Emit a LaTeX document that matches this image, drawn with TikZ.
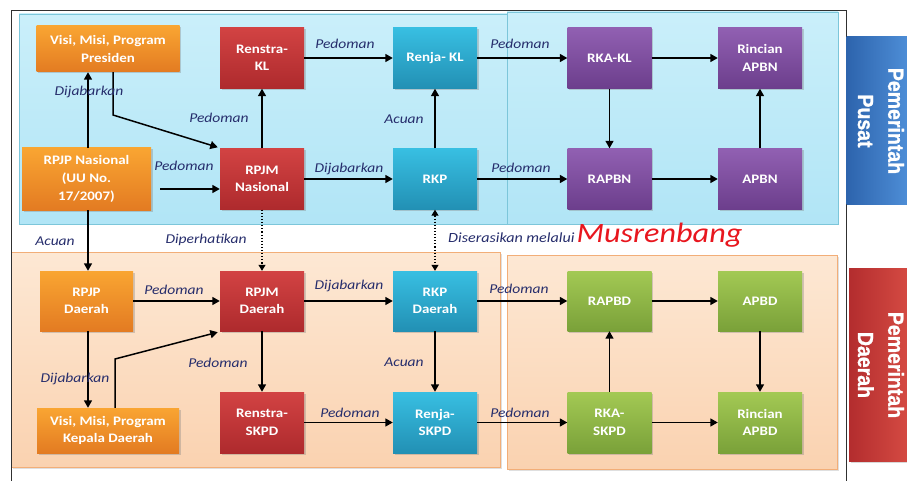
\documentclass[tikz,border=0pt]{standalone}
\usepackage{fontspec}
\usepackage{graphicx}
\setmainfont[FakeStretch=1.15]{Carlito}
\newfontfamily\tabfont[FakeBold=1.2]{Liberation Sans Bold}
\usetikzlibrary{arrows.meta,shadows}
\definecolor{orTop}{HTML}{F9A532}
\definecolor{orBot}{HTML}{E37B22}
\definecolor{rdTop}{HTML}{D24343}
\definecolor{rdBot}{HTML}{AE2A2D}
\definecolor{tlTop}{HTML}{38BFE2}
\definecolor{tlBot}{HTML}{2290B4}
\definecolor{puTop}{HTML}{9160B2}
\definecolor{puBot}{HTML}{6C3E8C}
\definecolor{grTop}{HTML}{A3C954}
\definecolor{grBot}{HTML}{7AA139}
\definecolor{lbTop}{HTML}{CAEFFA}
\definecolor{lbBot}{HTML}{B1E5F6}
\definecolor{lbLine}{HTML}{7CC6DA}
\definecolor{loTop}{HTML}{FDE8D4}
\definecolor{loBot}{HTML}{FAD2B0}
\definecolor{loLine}{HTML}{F2AE78}
\definecolor{navy}{HTML}{262D6C}
\definecolor{musred}{HTML}{E8161E}
\definecolor{tabBlueL}{HTML}{2D64AD}
\definecolor{tabBlueR}{HTML}{4D8DD6}
\definecolor{tabRedL}{HTML}{B32D2E}
\definecolor{tabRedR}{HTML}{D44A42}
\definecolor{framec}{HTML}{303030}
\tikzset{
  box/.style={minimum width=84pt, minimum height=61pt, inner sep=1pt, align=center,
    font=\bfseries\fontsize{13}{17.5}\selectfont, text=white,
    drop shadow={opacity=0.35, shadow xshift=1.5pt, shadow yshift=-1.5pt}},
  orbox/.style={box, top color=orTop, bottom color=orBot},
  rdbox/.style={box, top color=rdTop, bottom color=rdBot},
  tlbox/.style={box, top color=tlTop, bottom color=tlBot},
  pubox/.style={box, top color=puTop, bottom color=puBot},
  grbox/.style={box, top color=grTop, bottom color=grBot},
  lbl/.style={font=\itshape\fontsize{13.5}{15}\selectfont, text=navy, inner sep=0pt},
  arr/.style={line width=1.5pt, -{Triangle[length=7.5pt,width=8pt]}},
  dotarr/.style={line width=1.1pt, dotted, -{Triangle[length=6pt,width=7pt]}},
  bgblue/.style={top color=lbTop, bottom color=lbBot, draw=lbLine, line width=0.8pt},
  bgorange/.style={top color=loTop, bottom color=loBot, draw=loLine, line width=0.8pt,
    drop shadow={opacity=0.25, shadow xshift=1.5pt, shadow yshift=-1.5pt}},
  tabtext/.style={font=\tabfont\fontsize{19.5}{24}\selectfont, text=white, rotate=-90, inner sep=0pt}
}
\begin{document}
\begin{tikzpicture}[x=1pt,y=-1pt]
\useasboundingbox (0,0) rectangle (907,481);
\fill[white] (0,0) rectangle (907,481);
% background panels
\path[bgblue] (19,14) rectangle (509,224);
\path[bgblue] (507,12) rectangle (838,224);
\path[bgorange] (11,252) rectangle (500,467);
\path[bgorange] (507,255) rectangle (837,469);
% frame
\draw[framec, line width=1pt] (11,481) -- (11,11) -- (846,11) -- (846,481);
% side tabs
\path[left color=tabBlueL, right color=tabBlueR] (846.5,37) rectangle (907,205);
\node[tabtext] (tabpusat) at (878.5,121) {\scalebox{1}[1.12]{\begin{tabular}{@{}c@{}}Pemerintah\\[3pt]Pusat\end{tabular}}};
\path[left color=tabRedL, right color=tabRedR, drop shadow={opacity=0.3, shadow xshift=1.5pt, shadow yshift=-1.5pt}] (849,268) rectangle (907,461);
\node[tabtext] (tabdaerah) at (878.5,365) {\scalebox{1}[1.12]{\begin{tabular}{@{}c@{}}Pemerintah\\[3pt]Daerah\end{tabular}}};
% nodes top
\node[orbox, minimum width=143pt, minimum height=46pt] (visip) at (108,49) {Visi, Misi, Program\\Presiden};
\node[rdbox] (renstrakl) at (262,58) {Renstra-\\KL};
\node[tlbox] (renjakl) at (435,58) {Renja- KL};
\node[pubox] (rkakl) at (609.5,58) {RKA-KL};
\node[pubox] (rincianapbn) at (760,58) {Rincian\\APBN};
\node[orbox, minimum width=129pt, minimum height=62pt, font=\bfseries\fontsize{13}{18}\selectfont] (rpjpn) at (86.5,179) {RPJP Nasional\\(UU No.\\17/2007)};
\node[rdbox] (rpjmn) at (262,179) {RPJM\\Nasional};
\node[tlbox] (rkp) at (435,179) {RKP};
\node[pubox] (rapbn) at (609.5,179) {RAPBN};
\node[pubox] (apbn) at (760,179) {APBN};
% nodes bottom
\node[orbox, minimum width=93pt, minimum height=60pt] (rpjpd) at (86.5,301) {RPJP\\Daerah};
\node[rdbox, minimum height=60pt] (rpjmd) at (262,301) {RPJM\\Daerah};
\node[tlbox, minimum height=60pt] (rkpd) at (435,301) {RKP\\Daerah};
\node[grbox, minimum height=60pt] (rapbd) at (609.5,301) {RAPBD};
\node[grbox, minimum height=60pt] (apbd) at (760,301) {APBD};
\node[orbox, minimum width=142pt, minimum height=45pt] (visid) at (108,430.5) {Visi, Misi, Program\\Kepala Daerah};
\node[rdbox] (renstraskpd) at (262,422.5) {Renstra-\\SKPD};
\node[tlbox] (renjaskpd) at (435,422.5) {Renja-\\SKPD};
\node[grbox] (rkaskpd) at (609.5,422.5) {RKA-\\SKPD};
\node[grbox] (rincianapbd) at (760,422.5) {Rincian\\APBD};
% bend coordinates
\coordinate (bendtop) at (113,115);
\coordinate (bendbot) at (115,359);
% arrows top
\draw[arr] ([xshift=1.5pt]rpjpn.north) -- ([xshift=1.5pt]rpjpn.north |- visip.south);
\draw[arr] (visip.south -| bendtop) -- (bendtop) -- ([shift={(-2pt,1pt)}]rpjmn.north west);
\draw[arr] ([shift={(9pt,-10pt)}]rpjpn.east) -- ([yshift=-10pt]rpjmn.west);
\draw[arr] (rpjmn.north) -- (renstrakl.south);
\draw[arr] (renstrakl.east) -- (renjakl.west);
\draw[arr] (rpjmn.east) -- (rkp.west);
\draw[arr] (rkp.north) -- (renjakl.south);
\draw[arr] (renjakl.east) -- (rkakl.west);
\draw[arr] (rkakl.east) -- (rincianapbn.west);
\draw[arr] (rkakl.south) -- (rapbn.north);
\draw[arr] (rkp.east) -- (rapbn.west);
\draw[arr] (rapbn.east) -- (apbn.west);
\draw[arr] (apbn.north) -- (rincianapbn.south);
% between levels
\draw[arr] ([xshift=1.5pt]rpjpn.south) -- ([xshift=1.5pt]rpjpn.south |- rpjpd.north);
\draw[dotarr] (rpjmn.south) -- (rpjmd.north);
\draw[dotarr, {Triangle[length=6pt,width=7pt]}-{Triangle[length=6pt,width=7pt]}] (rkp.south) -- (rkpd.north);
% arrows bottom
\draw[arr] (rpjpd.east) -- (rpjmd.west);
\draw[arr] (rpjmd.east) -- (rkpd.west);
\draw[arr] (rkpd.east) -- (rapbd.west);
\draw[arr] (rapbd.east) -- (apbd.west);
\draw[arr] ([xshift=1.5pt]rpjpd.south) -- ([xshift=1.5pt]rpjpd.south |- visid.north);
\draw[arr] (visid.north -| bendbot) -- (bendbot) -- ([shift={(-2pt,-1pt)}]rpjmd.south west);
\draw[arr] (rpjmd.south) -- (renstraskpd.north);
\draw[arr] (rkpd.south) -- (renjaskpd.north);
\draw[arr] (renstraskpd.east) -- (renjaskpd.west);
\draw[arr] (renjaskpd.east) -- (rkaskpd.west);
\draw[arr] (rkaskpd.north) -- (rapbd.south);
\draw[arr] (rkaskpd.east) -- (rincianapbd.west);
\draw[arr] (apbd.south) -- (rincianapbd.north);
% labels
\node[lbl] (l1) at (89,92) {Dijabarkan};
\node[lbl] (l2) at (219,118) {Pedoman};
\node[lbl] (l3) at (184,166) {Pedoman};
\node[lbl] (l4) at (345,44) {Pedoman};
\node[lbl] (l5) at (349,169) {Dijabarkan};
\node[lbl] (l6) at (404,119) {Acuan};
\node[lbl] (l7) at (520,44) {Pedoman};
\node[lbl] (l8) at (521,168) {Pedoman};
\node[lbl] (l9) at (55,241) {Acuan};
\node[lbl] (l10) at (206,240) {Diperhatikan};
\node[lbl, anchor=base west] (l11) at (448,242) {\fontsize{14}{16}\selectfont Diserasikan melalui\hspace{2pt}{\color{musred}\fontsize{28}{30}\selectfont Musrenbang}};
\node[lbl] (l12) at (174,290) {Pedoman};
\node[lbl] (l13) at (349,286) {Dijabarkan};
\node[lbl] (l14) at (519,289) {Pedoman};
\node[lbl] (l15) at (75,379) {Dijabarkan};
\node[lbl] (l16) at (218,363) {Pedoman};
\node[lbl] (l17) at (404,362) {Acuan};
\node[lbl] (l18) at (350,413) {Pedoman};
\node[lbl] (l19) at (520,413) {Pedoman};
\end{tikzpicture}
\end{document}
